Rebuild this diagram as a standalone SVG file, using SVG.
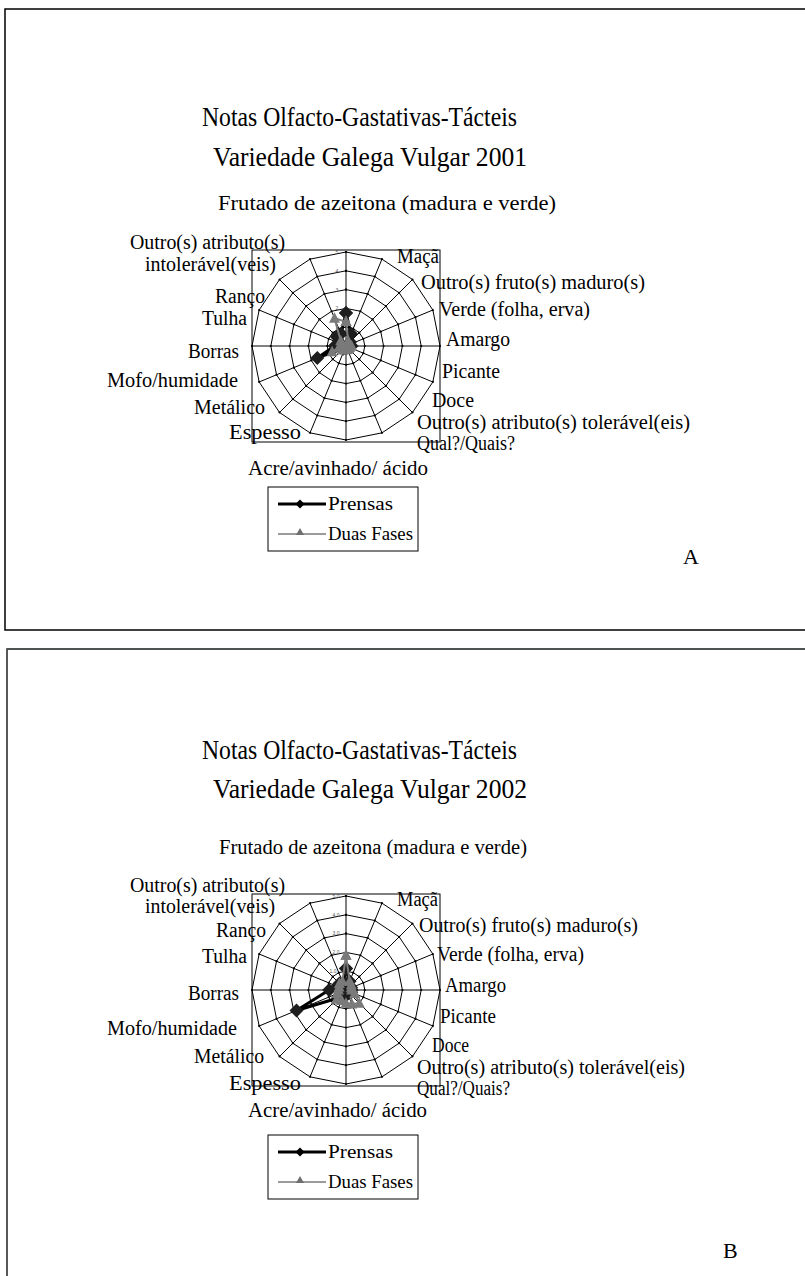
<svg xmlns="http://www.w3.org/2000/svg" xmlns:xlink="http://www.w3.org/1999/xlink" width="805" height="1276" viewBox="0 0 805 1276">
<style>
.t{font-family:"Liberation Serif","Times New Roman",serif;fill:#000}
.title{font-size:28px}
.lbl{font-size:20px}
.leg{font-size:18.5px}
.big{font-size:22px}
.tick{font-family:"Liberation Sans",Arial,sans-serif;font-size:5px;fill:#555;text-anchor:middle}
.ring{fill:none;stroke:#000;stroke-width:1;marker-start:url(#dot);marker-mid:url(#dot);marker-end:url(#dot)}
.spk{fill:none;stroke:#000;stroke-width:1}
.prensas{fill:none;stroke:#000;stroke-width:3;stroke-linejoin:round;marker-start:url(#dia);marker-mid:url(#dia);marker-end:url(#dia)}
.duas{fill:none;stroke:#7a7a7a;stroke-width:2;stroke-linejoin:round;marker-start:url(#tri);marker-mid:url(#tri);marker-end:url(#tri)}
.frame{fill:none;stroke:#000;stroke-width:1.5}
</style>
<defs>
<marker id="dot" markerUnits="userSpaceOnUse" markerWidth="4" markerHeight="4" viewBox="-2 -2 4 4" refX="0" refY="0"><circle r="1.1" fill="#000"/></marker>
<marker id="dia" markerUnits="userSpaceOnUse" markerWidth="16" markerHeight="16" viewBox="-8 -8 16 16" refX="0" refY="0" overflow="visible"><path d="M0,-7L7,0L0,7L-7,0Z" fill="#1e1e1e"/></marker>
<marker id="tri" markerUnits="userSpaceOnUse" markerWidth="14" markerHeight="14" viewBox="-7 -7 14 14" refX="0" refY="0" overflow="visible"><path d="M0,-6L5.5,4.5L-5.5,4.5Z" fill="#7a7a7a"/></marker>
<g id="grid">
<rect x="-94" y="-96" width="188" height="192" fill="none" stroke="#000" stroke-width="1"/>
<path class="spk" d="M0,-94L0,94M35.97,-86.85L-35.97,86.85M66.47,-66.47L-66.47,66.47M86.85,-35.97L-86.85,35.97M94,0L-94,0M86.85,35.97L-86.85,-35.97M66.47,66.47L-66.47,-66.47M35.97,86.85L-35.97,-86.85"/>
<polygon class="ring" points="0,-18.8 7.2,-17.37 13.29,-13.29 17.37,-7.2 18.8,0 17.37,7.2 13.29,13.29 7.2,17.37 0,18.8 -7.2,17.37 -13.29,13.29 -17.37,7.2 -18.8,0 -17.37,-7.2 -13.29,-13.29 -7.2,-17.37"/>
<polygon class="ring" points="0,-37.6 14.39,-34.74 26.59,-26.59 34.74,-14.39 37.6,0 34.74,14.39 26.59,26.59 14.39,34.74 0,37.6 -14.39,34.74 -26.59,26.59 -34.74,14.39 -37.6,0 -34.74,-14.39 -26.59,-26.59 -14.39,-34.74"/>
<polygon class="ring" points="0,-56.4 21.58,-52.11 39.88,-39.88 52.11,-21.58 56.4,0 52.11,21.58 39.88,39.88 21.58,52.11 0,56.4 -21.58,52.11 -39.88,39.88 -52.11,21.58 -56.4,0 -52.11,-21.58 -39.88,-39.88 -21.58,-52.11"/>
<polygon class="ring" points="0,-75.2 28.78,-69.48 53.17,-53.17 69.48,-28.78 75.2,0 69.48,28.78 53.17,53.17 28.78,69.48 0,75.2 -28.78,69.48 -53.17,53.17 -69.48,28.78 -75.2,0 -69.48,-28.78 -53.17,-53.17 -28.78,-69.48"/>
<polygon class="ring" points="0,-94 35.97,-86.85 66.47,-66.47 86.85,-35.97 94,0 86.85,35.97 66.47,66.47 35.97,86.85 0,94 -35.97,86.85 -66.47,66.47 -86.85,35.97 -94,0 -86.85,-35.97 -66.47,-66.47 -35.97,-86.85"/>
</g>
</defs>
<rect width="805" height="1276" fill="#fff"/>

<!-- Panel A -->
<g id="panelA">
<rect class="frame" x="5" y="9" width="820" height="621"/>
<text class="t title" x="202" y="126" textLength="315" lengthAdjust="spacingAndGlyphs">Notas Olfacto-Gastativas-Tácteis</text>
<text class="t title" x="213" y="166" textLength="314" lengthAdjust="spacingAndGlyphs">Variedade Galega Vulgar 2001</text>
<use xlink:href="#grid" href="#grid" x="346" y="346"/>
<g id="ticksA">
<text class="tick" x="337" y="254">5</text>
<text class="tick" x="337" y="273">4</text>
<text class="tick" x="337" y="292">3</text>
<text class="tick" x="337" y="310">2</text>
<text class="tick" x="337" y="329">1</text>
</g>
<g id="labelsA">
<text class="t lbl" x="218" y="210" textLength="338" lengthAdjust="spacingAndGlyphs">Frutado de azeitona (madura e verde)</text>
<text class="t lbl" x="397" y="263" textLength="42" lengthAdjust="spacingAndGlyphs">Maçã</text>
<text class="t lbl" x="421" y="289" textLength="224" lengthAdjust="spacingAndGlyphs">Outro(s) fruto(s) maduro(s)</text>
<text class="t lbl" x="439" y="316" textLength="151" lengthAdjust="spacingAndGlyphs">Verde (folha, erva)</text>
<text class="t lbl" x="446" y="346" textLength="64" lengthAdjust="spacingAndGlyphs">Amargo</text>
<text class="t lbl" x="442" y="378" textLength="58" lengthAdjust="spacingAndGlyphs">Picante</text>
<text class="t lbl" x="432" y="407" textLength="42" lengthAdjust="spacingAndGlyphs">Doce</text>
<text class="t lbl" x="417" y="429" textLength="273" lengthAdjust="spacingAndGlyphs">Outro(s) atributo(s) tolerável(eis)</text>
<text class="t lbl" x="417" y="450" textLength="98" lengthAdjust="spacingAndGlyphs">Qual?/Quais?</text>
<text class="t lbl" x="248" y="475" textLength="180" lengthAdjust="spacingAndGlyphs">Acre/avinhado/ ácido</text>
<text class="t lbl" x="229" y="439" textLength="72" lengthAdjust="spacingAndGlyphs">Espesso</text>
<text class="t lbl" x="194" y="414" textLength="71" lengthAdjust="spacingAndGlyphs">Metálico</text>
<text class="t lbl" x="107" y="387" textLength="131" lengthAdjust="spacingAndGlyphs">Mofo/humidade</text>
<text class="t lbl" x="188" y="358" textLength="51" lengthAdjust="spacingAndGlyphs">Borras</text>
<text class="t lbl" x="202" y="325" textLength="45" lengthAdjust="spacingAndGlyphs">Tulha</text>
<text class="t lbl" x="215" y="303" textLength="50" lengthAdjust="spacingAndGlyphs">Ranço</text>
<text class="t lbl" x="130" y="249" textLength="155" lengthAdjust="spacingAndGlyphs">Outro(s) atributo(s)</text>
<text class="t lbl" x="145" y="271" textLength="131" lengthAdjust="spacingAndGlyphs">intolerável(veis)</text>
</g>
<g id="seriesA">
<polygon class="prensas" points="346,313.1 351,333.8 350,342 349.5,344.6 351.6,346 349.5,347.4 347.3,347.3 346.7,347.7 346,347.9 345.3,347.7 343.3,348.7 317.3,357.9 334.7,346 339.1,343.1 336.7,336.7 341,333.8"/>
<polygon class="duas" points="346,321.6 348.2,340.8 348.7,343.3 349.5,344.6 351.6,346 349.5,347.4 348.7,348.7 347.4,349.5 346,349.8 344.6,349.5 342,350 332.1,351.8 340.4,346 340.8,343.8 340.7,340.7 334.5,318.2"/>
</g>
<g id="legendA">
<rect x="268" y="487" width="150" height="64" fill="none" stroke="#000" stroke-width="1"/>
<line x1="278" y1="504" x2="326" y2="504" stroke="#000" stroke-width="3"/>
<path d="M300,499.5L304.5,504L300,508.5L295.5,504Z" fill="#000"/>
<text class="t leg" x="328" y="510" textLength="65" lengthAdjust="spacingAndGlyphs">Prensas</text>
<line x1="278" y1="534" x2="326" y2="534" stroke="#7a7a7a" stroke-width="1.5"/>
<path d="M300,528L304,535L296,535Z" fill="#6e6e6e"/>
<text class="t leg" x="328" y="540" textLength="85" lengthAdjust="spacingAndGlyphs">Duas Fases</text>
</g>
<text class="t big" x="683" y="564">A</text>
</g>

<!-- Panel B -->
<g id="panelB">
<rect x="7" y="649" width="820" height="700" fill="none" stroke="#222" stroke-width="1.5"/>
<line x1="7" y1="649" x2="805" y2="649" stroke="#4e5454" stroke-width="2.2"/>
<text class="t title" x="202" y="759" textLength="315" lengthAdjust="spacingAndGlyphs">Notas Olfacto-Gastativas-Tácteis</text>
<text class="t title" x="213" y="798" textLength="314" lengthAdjust="spacingAndGlyphs">Variedade Galega Vulgar 2002</text>
<use xlink:href="#grid" href="#grid" x="346" y="990"/>
<g id="ticksB">
<text class="tick" x="336" y="898">5.0</text>
<text class="tick" x="336" y="917">4.0</text>
<text class="tick" x="336" y="935">3.0</text>
<text class="tick" x="336" y="954">2.0</text>
<text class="tick" x="333" y="973">1.0</text>
<text class="tick" x="336" y="991">0</text>
</g>
<g id="labelsB">
<text class="t lbl" x="219" y="854" textLength="308" lengthAdjust="spacingAndGlyphs">Frutado de azeitona (madura e verde)</text>
<text class="t lbl" x="397" y="906" textLength="41" lengthAdjust="spacingAndGlyphs">Maçã</text>
<text class="t lbl" x="419" y="932" textLength="219" lengthAdjust="spacingAndGlyphs">Outro(s) fruto(s) maduro(s)</text>
<text class="t lbl" x="437" y="961" textLength="147" lengthAdjust="spacingAndGlyphs">Verde (folha, erva)</text>
<text class="t lbl" x="445" y="992" textLength="61" lengthAdjust="spacingAndGlyphs">Amargo</text>
<text class="t lbl" x="440" y="1023" textLength="56" lengthAdjust="spacingAndGlyphs">Picante</text>
<text class="t lbl" x="432" y="1052" textLength="37" lengthAdjust="spacingAndGlyphs">Doce</text>
<text class="t lbl" x="417" y="1074" textLength="268" lengthAdjust="spacingAndGlyphs">Outro(s) atributo(s) tolerável(eis)</text>
<text class="t lbl" x="417" y="1095" textLength="93" lengthAdjust="spacingAndGlyphs">Qual?/Quais?</text>
<text class="t lbl" x="248" y="1117" textLength="179" lengthAdjust="spacingAndGlyphs">Acre/avinhado/ ácido</text>
<text class="t lbl" x="229" y="1090" textLength="72" lengthAdjust="spacingAndGlyphs">Espesso</text>
<text class="t lbl" x="194" y="1063" textLength="70" lengthAdjust="spacingAndGlyphs">Metálico</text>
<text class="t lbl" x="107" y="1035" textLength="130" lengthAdjust="spacingAndGlyphs">Mofo/humidade</text>
<text class="t lbl" x="188" y="1000" textLength="51" lengthAdjust="spacingAndGlyphs">Borras</text>
<text class="t lbl" x="202" y="963" textLength="45" lengthAdjust="spacingAndGlyphs">Tulha</text>
<text class="t lbl" x="216" y="937" textLength="50" lengthAdjust="spacingAndGlyphs">Ranço</text>
<text class="t lbl" x="130" y="892" textLength="155" lengthAdjust="spacingAndGlyphs">Outro(s) atributo(s)</text>
<text class="t lbl" x="145" y="913" textLength="130" lengthAdjust="spacingAndGlyphs">intolerável(veis)</text>
</g>
<g id="seriesB">
<polygon class="prensas" points="346,968.4 349.6,981.3 350,986 351.2,987.8 351.6,990 351.2,992.2 348.7,992.7 347.4,993.5 346,995.6 343.8,995.2 338,998 296.5,1010.5 329.1,990 337.3,986.4 339.4,983.4 343.1,983.1"/>
<polygon class="duas" points="346,955.2 349.6,981.3 351.3,984.7 351.2,987.8 351.6,990 354.7,993.6 359.3,1003.3 351.8,1003.9 346,1003.2 341.7,1000.4 336.7,999.3 337.3,993.6 338.5,990 339.1,987.1 339.4,983.4 342.4,981.3"/>
</g>
<g id="legendB">
<rect x="268" y="1135" width="150" height="64" fill="none" stroke="#000" stroke-width="1"/>
<line x1="278" y1="1152" x2="326" y2="1152" stroke="#000" stroke-width="3"/>
<path d="M300,1147.5L304.5,1152L300,1156.5L295.5,1152Z" fill="#000"/>
<text class="t leg" x="328" y="1158" textLength="65" lengthAdjust="spacingAndGlyphs">Prensas</text>
<line x1="278" y1="1182" x2="326" y2="1182" stroke="#7a7a7a" stroke-width="1.5"/>
<path d="M300,1176L304,1183L296,1183Z" fill="#6e6e6e"/>
<text class="t leg" x="328" y="1188" textLength="85" lengthAdjust="spacingAndGlyphs">Duas Fases</text>
</g>
<text class="t big" x="723" y="1258">B</text>
</g>
</svg>
